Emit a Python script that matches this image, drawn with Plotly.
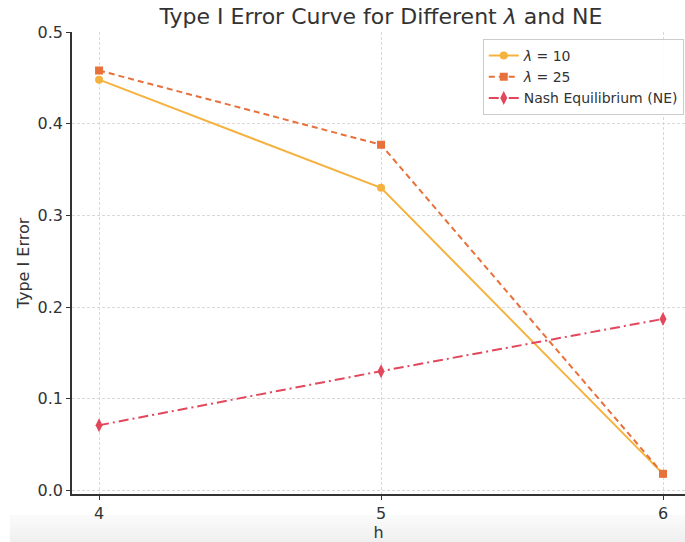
import plotly.graph_objects as go

h = [4, 5, 6]
lam10 = [0.448, 0.330, 0.018]
lam25 = [0.458, 0.377, 0.018]
ne = [0.071, 0.130, 0.187]
names = ["<i>λ</i> = 10", "<i>λ</i> = 25", "Nash Equilibrium (NE)"]
xticks = [4, 5, 6]
yticks = [0.0, 0.1, 0.2, 0.3, 0.4, 0.5]

fig = go.Figure()
fig.add_trace(go.Scatter(x=h, y=lam10, name=names[0], mode="lines+markers",
                         line=dict(color="#F5B23E", width=2, dash="solid"),
                         marker=dict(symbol="circle", size=8, color="#F5B23E")))
fig.add_trace(go.Scatter(x=h, y=lam25, name=names[1], mode="lines+markers",
                         line=dict(color="#E8703A", width=2, dash="6px,4px"),
                         marker=dict(symbol="square", size=8, color="#E8703A")))
fig.add_trace(go.Scatter(x=h, y=ne, name=names[2], mode="lines+markers",
                         line=dict(color="#E2475C", width=2, dash="10px,4px,2px,4px"),
                         marker=dict(symbol="diamond-tall", size=10, color="#E2475C")))

# bottom shading
n = 8
top = -(515 - 494) / 462
bot = -(542 - 494) / 462
for i in range(n):
    y0 = top + (bot - top) * i / n
    y1 = top + (bot - top) * (i + 1) / n
    fig.add_shape(type="rect", xref="paper", yref="paper",
                  x0=-62 / 613, x1=1.0, y0=y0, y1=y1,
                  fillcolor="rgba(200,200,200,%.3f)" % (0.06 + 0.22 * (i + 1) / n),
                  line=dict(width=0), layer="below")

fig.update_layout(
    width=685, height=542,
    margin=dict(l=72, r=0, t=32, b=48),
    paper_bgcolor="white", plot_bgcolor="white",
    font=dict(family="DejaVu Sans", color="#333333", size=14),
    title=dict(text="Type I Error Curve for Different <i>λ</i> and NE",
               x=(381) / 685, xanchor="center", y=1 - 16 / 542, yanchor="middle",
               font=dict(size=22, color="#333333")),
    xaxis=dict(range=[3.904, 6.078], tickvals=xticks, ticktext=[str(v) for v in xticks],
               showline=True, linecolor="#333333", linewidth=1.5,
               ticks="outside", ticklen=4, tickcolor="#333333",
               showgrid=True, gridcolor="#d9d9d9", griddash="3px,2px", gridwidth=1,
               zeroline=False, title=dict(text="h", font=dict(size=16), standoff=2),
               tickfont=dict(size=16)),
    yaxis=dict(range=[-0.004, 0.5], tickvals=yticks, ticktext=["%.1f" % v for v in yticks],
               showline=True, linecolor="#333333", linewidth=1.5,
               ticks="outside", ticklen=4, tickcolor="#333333",
               showgrid=True, gridcolor="#d9d9d9", griddash="3px,2px", gridwidth=1,
               zeroline=False, title=dict(text="Type I Error", font=dict(size=16), standoff=4),
               tickfont=dict(size=16)),
    legend=dict(x=0.998, xanchor="right", y=0.985, yanchor="top",
                bgcolor="rgba(255,255,255,0.9)", bordercolor="#cccccc", borderwidth=1,
                font=dict(size=14, color="#333333"), tracegroupgap=2),
    showlegend=True,
)

fig.write_html("out.html")
